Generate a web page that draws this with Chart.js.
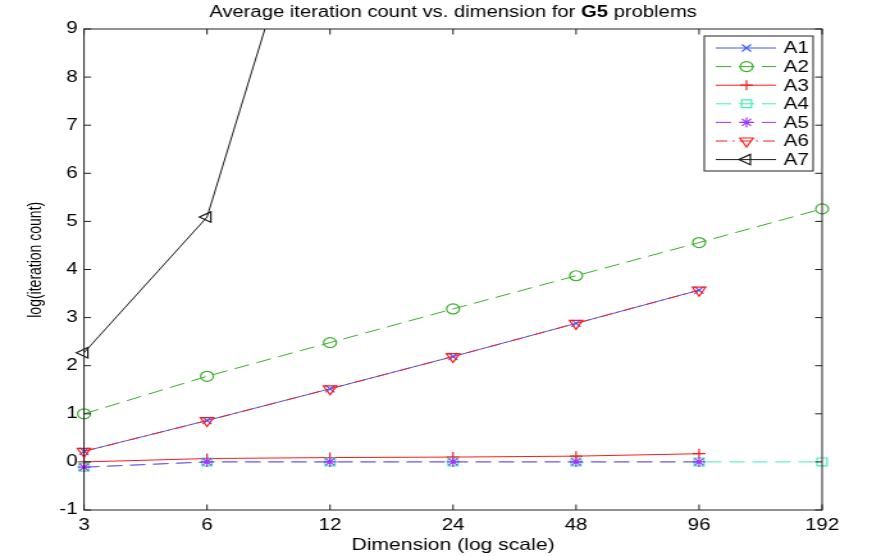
<!DOCTYPE html>
<html>
<head>
<meta charset="utf-8">
<script src="https://cdn.jsdelivr.net/npm/chart.js@4.4.0/dist/chart.umd.min.js"></script>
<style>
html, body { margin: 0; padding: 0; background: #fff; overflow: hidden; }
/* the reference is a stretched figure, so the canvas is stretched the same way */
#wrap { width: 681px; height: 556px; transform: scaleX(1.2805); transform-origin: 0 0; }
</style>
</head>
<body>
<div id="wrap"><canvas id="c" width="681" height="556"></canvas></div>
<script>
'use strict';

// dimensions (x, log scale)
var dims = [3, 6, 12, 24, 48, 96, 192];
// log(iteration count) per algorithm
var a1 = [0.22, 0.86, 1.52, 2.19, 2.88, 3.57];
var a2 = [1.00, 1.78, 2.48, 3.18, 3.87, 4.56, 5.26];
var a3 = [0.00, 0.07, 0.09, 0.10, 0.12, 0.17];
var a4 = [-0.11, 0.00, 0.00, 0.00, 0.00, 0.00, 0.00];
var a5 = [-0.11, 0.00, 0.00, 0.00, 0.00, 0.00];
var a6 = [0.22, 0.86, 1.52, 2.19, 2.88, 3.57];
var a7 = [2.27, 5.09, 13.4];
var names = ['A1', 'A2', 'A3', 'A4', 'A5', 'A6', 'A7'];
var xTicks = [3, 6, 12, 24, 48, 96, 192];
var yTicks = [-1, 0, 1, 2, 3, 4, 5, 6, 7, 8, 9];

var FONT = '"Liberation Sans", Arial, Helvetica, sans-serif';

function pts(vals) {
	return vals.map(function (v, i) { return { x: dims[i], y: v }; });
}

// style of each series: colour, dash, marker
var styles = [
	{ color: '#3f5bff', dash: [], marker: 'crossRot', rot: 0, r: 5 },
	{ color: '#3aae2a', dash: [12, 6], marker: 'circle', rot: 0, r: 5 },
	{ color: '#ff1a1a', dash: [], marker: 'cross', rot: 0, r: 5 },
	{ color: '#3ff0b4', dash: [12, 6], marker: 'rect', rot: 0, r: 5.5 },
	{ color: '#9b35ff', dash: [12, 6], marker: 'star', rot: 0, r: 5 },
	{ color: '#ff1a1a', dash: [9, 4, 1.5, 4], marker: 'triangle', rot: 180, r: 6 },
	{ color: '#1a1a1a', dash: [], marker: 'triangle', rot: 270, r: 6 }
];
var series = [a1, a2, a3, a4, a5, a6, a7];

var datasets = series.map(function (vals, i) {
	var s = styles[i];
	return {
		label: names[i],
		data: pts(vals),
		borderColor: s.color,
		backgroundColor: 'rgba(0,0,0,0)',
		borderWidth: 1,
		borderDash: s.dash,
		pointStyle: s.marker,
		pointRotation: s.rot,
		pointRadius: s.r,
		pointBorderWidth: 1.2,
		pointBorderColor: s.color,
		pointBackgroundColor: 'rgba(0,0,0,0)',
		tension: 0,
		order: 7 - i,  // A7 drawn last (on top)
		clip: { left: 12, right: 12, top: 0, bottom: 12 }
	};
});

/* MATLAB-like frame: box, inward ticks, title with bold part, legend with line + marker */
var matlabLook = {
	id: 'matlabLook',
	afterDraw: function (chart) {
		var ctx = chart.ctx;
		var a = chart.chartArea;
		var xs = chart.scales.x, ys = chart.scales.y;
		ctx.save();
		ctx.strokeStyle = '#222';
		ctx.lineWidth = 1;
		ctx.setLineDash([]);
		ctx.strokeRect(a.left, a.top, a.right - a.left, a.bottom - a.top);
		var tl = 5.5;
		ctx.beginPath();
		xTicks.forEach(function (v) {
			var px = xs.getPixelForValue(v);
			ctx.moveTo(px, a.bottom); ctx.lineTo(px, a.bottom - tl);
			ctx.moveTo(px, a.top); ctx.lineTo(px, a.top + tl);
		});
		yTicks.forEach(function (v) {
			var py = ys.getPixelForValue(v);
			ctx.moveTo(a.left, py); ctx.lineTo(a.left + tl, py);
			ctx.moveTo(a.right, py); ctx.lineTo(a.right - tl, py);
		});
		ctx.stroke();

		// title
		var parts = [
			{ t: 'Average iteration count vs. dimension for ', b: false },
			{ t: 'G5', b: true },
			{ t: ' problems', b: false }
		];
		var total = 0;
		parts.forEach(function (p) {
			ctx.font = (p.b ? 'bold ' : '') + '15.8px ' + FONT;
			p.w = ctx.measureText(p.t).width;
			total += p.w;
		});
		var tx = (a.left + a.right) / 2 - total / 2;
		ctx.fillStyle = '#000';
		ctx.textBaseline = 'middle';
		ctx.textAlign = 'left';
		parts.forEach(function (p) {
			ctx.font = (p.b ? 'bold ' : '') + '15.8px ' + FONT;
			ctx.fillText(p.t, tx, 13);
			tx += p.w;
		});

		// legend
		var bx = a.right - 92, by = a.top + 7, bw = 85, bh = 135;
		ctx.fillStyle = '#fff';
		ctx.fillRect(bx, by, bw, bh);
		ctx.strokeStyle = '#222';
		ctx.lineWidth = 1;
		ctx.strokeRect(bx, by, bw, bh);
		ctx.font = '16px ' + FONT;
		chart.data.datasets.forEach(function (ds, i) {
			var y = by + 12 + i * 18.6;
			ctx.strokeStyle = ds.borderColor;
			ctx.lineWidth = 1;
			ctx.setLineDash(ds.borderDash);
			ctx.beginPath();
			ctx.moveTo(bx + 9, y);
			ctx.lineTo(bx + 56, y);
			ctx.stroke();
			ctx.setLineDash([]);
			ctx.lineWidth = 1.2;
			ctx.fillStyle = 'rgba(0,0,0,0)';
			Chart.helpers.drawPoint(ctx, {
				pointStyle: ds.pointStyle, rotation: ds.pointRotation,
				radius: ds.pointRadius, borderWidth: 1.2
			}, bx + 33, y);
			ctx.fillStyle = '#000';
			ctx.fillText(ds.label, bx + 62, y + 1);
		});
		ctx.restore();
	}
};

new Chart(document.getElementById('c'), {
	type: 'line',
	data: { datasets: datasets },
	options: {
		responsive: false,
		animation: false,
		events: [],
		layout: { padding: { top: 29, right: 39, left: 0, bottom: 0 } },
		plugins: { legend: { display: false }, tooltip: { enabled: false } },
		scales: {
			x: {
				type: 'logarithmic',
				min: 3, max: 192,
				grid: { display: false, drawTicks: false },
				border: { display: false },
				afterBuildTicks: function (s) { s.ticks = xTicks.map(function (v) { return { value: v }; }); },
				afterFit: function (s) { s.height = 46; },
				ticks: {
					color: '#000', padding: 6, maxRotation: 0, autoSkip: false,
					font: { family: FONT, size: 16 },
					callback: function (v) { return String(v); }
				},
				title: {
					display: true, text: 'Dimension (log scale)', color: '#000',
					font: { family: FONT, size: 16.5 }, padding: { top: 0, bottom: 1 }
				}
			},
			y: {
				type: 'linear',
				min: -1, max: 9,
				grid: { display: false, drawTicks: false },
				border: { display: false },
				afterBuildTicks: function (s) { s.ticks = yTicks.map(function (v) { return { value: v }; }); },
				afterFit: function (s) { s.width = 65.6; },
				ticks: {
					color: '#000', padding: 5,
					font: { family: FONT, size: 16 },
					callback: function (v) { return String(v); }
				},
				title: {
					display: true, text: '     log(iteration count)', color: '#000',
					font: { family: FONT, size: 14 }, padding: { top: 20, bottom: 0 }
				}
			}
		}
	},
	plugins: [matlabLook]
});
</script>
</body>
</html>
